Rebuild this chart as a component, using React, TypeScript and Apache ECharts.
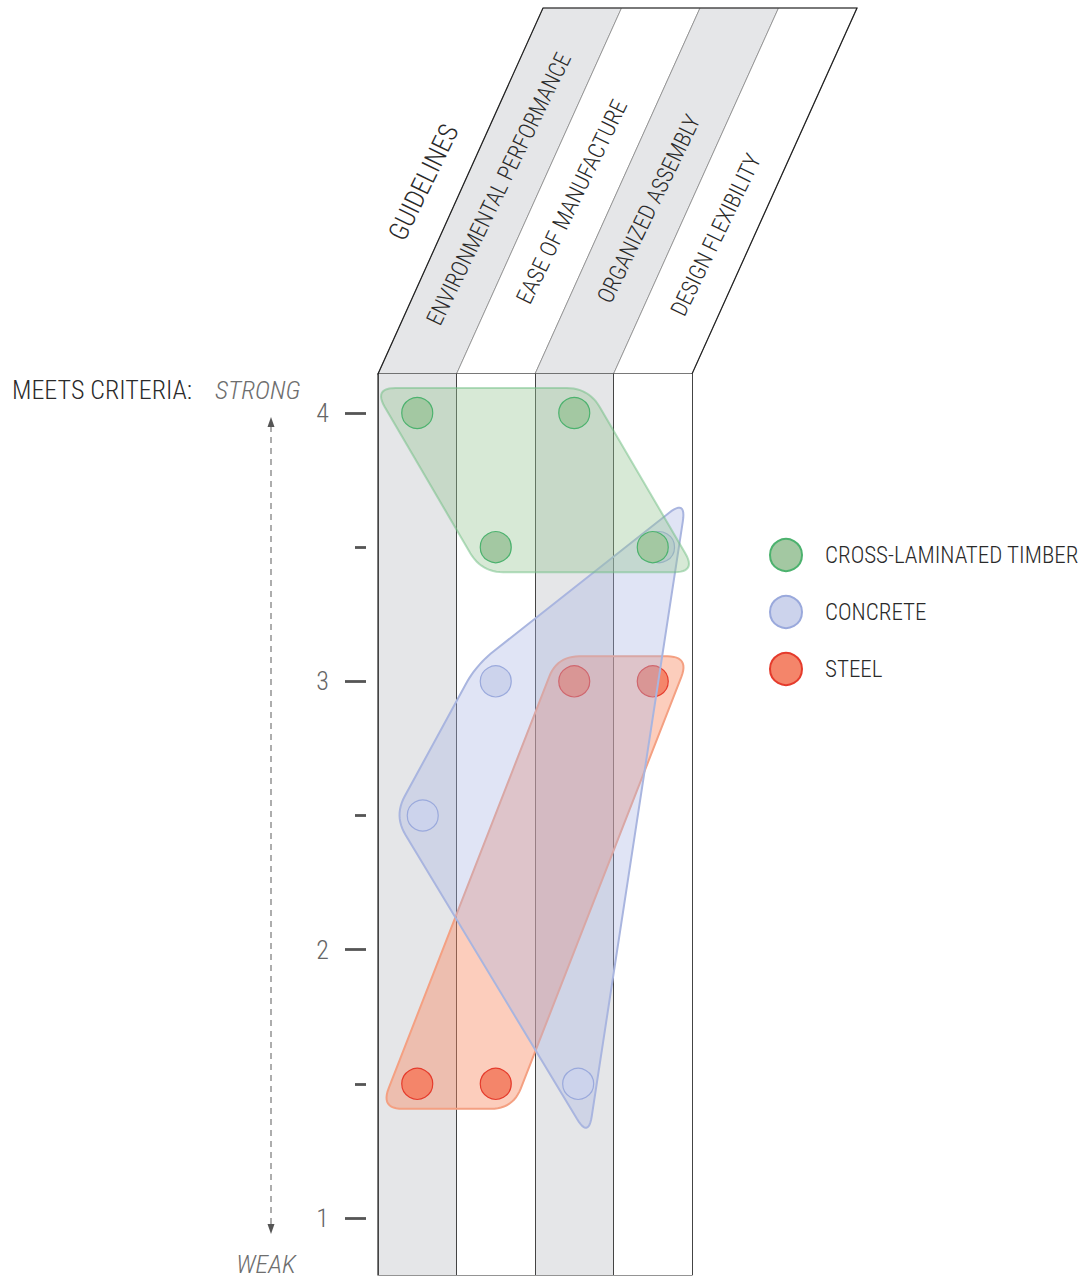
import React, { useEffect, useRef } from "react";
import * as echarts from "echarts";

// ---------- data ----------
const guidelines = ["ENVIRONMENTAL PERFORMANCE", "EASE OF MANUFACTURE", "ORGANIZED ASSEMBLY", "DESIGN FLEXIBILITY"];
const materials = ["CROSS-LAMINATED TIMBER", "CONCRETE", "STEEL"];
const timberScores = [4, 3.5, 4, 3.5];
const concreteScores = [2.5, 3, 1.5, 3.5];
const steelScores = [1.5, 1.5, 3, 3];
// small horizontal nudges of the concrete markers inside their column (in column units)
const concreteNudge = [0.07, 0, 0.05, 0.08];
const yTickValues = [1, 2, 3, 4];

// ---------- layout / style ----------
const FONT = "'Liberation Sans Narrow', 'Roboto Condensed', 'DejaVu Sans Condensed', Roboto, sans-serif";
const W = 300;
const GL = 378, GW = 314, GT = 374, GB = 1275;
const DT = 413, DB = 1218;
const AXIS_X = 366;
const SKEW = 165, HTOP = 8;
const CW = GW / 4;

const COLORS = {
  timber: { fill: "#a3c8a2", border: "#4cb26e", hull: "rgba(150,196,148,0.38)", hullStroke: "rgba(110,190,130,0.5)" },
  concrete: { fill: "#ccd3ec", border: "#9aa9dc", hull: "rgba(168,180,228,0.36)", hullStroke: "#a9b5df" },
  steel: { fill: "#f4856a", border: "#e53b2c", hull: "rgba(247,135,95,0.42)", hullStroke: "#f4a082" },
};

function toPoints(scores: number[], nudge?: number[]) {
  return scores.map((s, i) => [i + 0.5 + (nudge ? nudge[i] : 0), s]);
}

function convexHull(p: number[][]) {
  const pts = p.slice().sort((a, b) => a[0] - b[0] || a[1] - b[1]);
  const cross = (o: number[], a: number[], b: number[]) => (a[0] - o[0]) * (b[1] - o[1]) - (a[1] - o[1]) * (b[0] - o[0]);
  const lower: number[][] = [];
  const upper: number[][] = [];
  for (const q of pts) {
    while (lower.length >= 2 && cross(lower[lower.length - 2], lower[lower.length - 1], q) <= 0) lower.pop();
    lower.push(q);
  }
  for (let i = pts.length - 1; i >= 0; i--) {
    const q = pts[i];
    while (upper.length >= 2 && cross(upper[upper.length - 2], upper[upper.length - 1], q) <= 0) upper.pop();
    upper.push(q);
  }
  upper.pop();
  lower.pop();
  return lower.concat(upper);
}

function roundedHull(raw: number[][], pad: number, maxMiter: number, radius: number) {
  const h = convexHull(raw);
  const n = h.length;
  let cx = 0, cy = 0;
  h.forEach((q) => { cx += q[0] / n; cy += q[1] / n; });
  const normals: number[][] = [];
  for (let i = 0; i < n; i++) {
    const a = h[i], b = h[(i + 1) % n];
    const dx = b[0] - a[0], dy = b[1] - a[1];
    const len = Math.hypot(dx, dy) || 1;
    let nx = dy / len, ny = -dx / len;
    const mx = (a[0] + b[0]) / 2 - cx, my = (a[1] + b[1]) / 2 - cy;
    if (mx * nx + my * ny < 0) { nx = -nx; ny = -ny; }
    normals.push([nx, ny]);
  }
  const verts: number[][] = [];
  for (let i = 0; i < n; i++) {
    const n1 = normals[(i - 1 + n) % n], n2 = normals[i];
    let ax = n1[0] + n2[0], ay = n1[1] + n2[1];
    const al = Math.hypot(ax, ay) || 1;
    ax /= al; ay /= al;
    const cosHalf = Math.max(ax * n2[0] + ay * n2[1], 0.05);
    const m = Math.min(pad / cosHalf, maxMiter);
    verts.push([h[i][0] + ax * m, h[i][1] + ay * m]);
  }
  const out: number[][] = [];
  for (let i = 0; i < n; i++) {
    const V = verts[i], P = verts[(i - 1 + n) % n], N = verts[(i + 1) % n];
    const t1 = Math.min(radius / Math.hypot(P[0] - V[0], P[1] - V[1]), 0.5);
    const t2 = Math.min(radius / Math.hypot(N[0] - V[0], N[1] - V[1]), 0.5);
    const A = [V[0] + (P[0] - V[0]) * t1, V[1] + (P[1] - V[1]) * t1];
    const B = [V[0] + (N[0] - V[0]) * t2, V[1] + (N[1] - V[1]) * t2];
    for (let k = 0; k <= 12; k++) {
      const t = k / 12;
      const u = 1 - t;
      out.push([u * u * A[0] + 2 * u * t * V[0] + t * t * B[0], u * u * A[1] + 2 * u * t * V[1] + t * t * B[1]]);
    }
  }
  return out;
}

function hullSeries(name: string, pts: number[][], fill: string, stroke: string, z: number) {
  return {
    type: "custom",
    name,
    z,
    xAxisIndex: 1,
    yAxisIndex: 1,
    silent: true,
    clip: false,
    data: pts,
    encode: { x: 0, y: 1 },
    renderItem: (params: any, api: any) => {
      if (params.dataIndex !== 0) return null;
      const px = pts.map((p) => api.coord(p));
      return {
        type: "polygon",
        shape: { points: roundedHull(px, 25, 55, 22) },
        style: { fill, stroke, lineWidth: 2 },
      };
    },
  };
}

function pointSeries(name: string, pts: number[][], fill: string, border: string, z: number) {
  return {
    type: "scatter",
    name,
    z,
    xAxisIndex: 1,
    yAxisIndex: 1,
    symbol: "circle",
    symbolSize: 31,
    data: pts,
    itemStyle: { color: fill, borderColor: border, borderWidth: 1.2, opacity: 1 },
    emphasis: { disabled: true },
  };
}

let measureCtx: CanvasRenderingContext2D | null = null;
function textWidth(text: string, size: number) {
  if (!measureCtx) measureCtx = document.createElement("canvas").getContext("2d");
  if (!measureCtx) return text.length * size * 0.5;
  measureCtx.font = `${W} ${size}px ${FONT}`;
  return measureCtx.measureText(text).width;
}

function fittedText(text: string, cx: number, cy: number, size: number, target: number, rot: number, color: string) {
  const w = textWidth(text, size);
  const s = Math.max(0.6, Math.min(1.4, target / (w || 1)));
  return {
    type: "text",
    x: cx,
    y: cy,
    rotation: rot,
    scaleX: s,
    style: { text, fill: color, font: `${W} ${size}px ${FONT}`, align: "center", verticalAlign: "middle" },
  };
}

export default function App() {
  const ref = useRef<HTMLDivElement>(null);

  useEffect(() => {
    if (!ref.current) return;
    const chart = echarts.init(ref.current, null, { renderer: "svg" });

    const timberPts = toPoints(timberScores);
    const concretePts = toPoints(concreteScores, concreteNudge);
    const steelPts = toPoints(steelScores);

    const headerPolys: any[] = [];
    for (let i = 0; i < 4; i++) {
      headerPolys.push({
        type: "polygon",
        shape: {
          points: [
            [GL + i * CW, GT],
            [GL + (i + 1) * CW, GT],
            [GL + SKEW + (i + 1) * CW, HTOP],
            [GL + SKEW + i * CW, HTOP],
          ],
        },
        style: { fill: i % 2 === 0 ? "#e5e6e8" : "#ffffff", stroke: "#8a8a8a", lineWidth: 0.8 },
      });
    }
    headerPolys.push({
      type: "polygon",
      shape: { points: [[GL, GT], [GL + GW, GT], [GL + GW + SKEW, HTOP], [GL + SKEW, HTOP]] },
      style: { fill: "none", stroke: "#222", lineWidth: 1.2 },
    });

    const ROT = (64 * Math.PI) / 180;
    const labelCenters = [[499, 189], [572, 202], [649, 209], [716, 235]];
    const labelLengths = [300, 224, 206, 177];
    const headerLabels = guidelines.map((g, i) =>
      fittedText(g, labelCenters[i][0], labelCenters[i][1], 23, labelLengths[i], ROT, "#2a2a2a")
    );
    headerLabels.push(fittedText("GUIDELINES", 423, 182, 27, 125, ROT, "#2a2a2a"));

    const sideTexts: any[] = [
      {
        type: "text", x: 12, y: 390,
        style: { text: "MEETS CRITERIA:", fill: "#2a2a2a", font: `${W} 26px ${FONT}`, align: "left", verticalAlign: "middle" },
      },
      {
        type: "text", x: 215, y: 390,
        style: { text: "STRONG", fill: "#6e6e6e", font: `italic ${W} 26px ${FONT}`, align: "left", verticalAlign: "middle" },
      },
      {
        type: "text", x: 266, y: 1264,
        style: { text: "WEAK", fill: "#6e6e6e", font: `italic ${W} 26px ${FONT}`, align: "center", verticalAlign: "middle" },
      },
      {
        type: "line", shape: { x1: 271, y1: 426, x2: 271, y2: 1225 },
        style: { stroke: "#777", lineWidth: 1.2, lineDash: [6, 5] },
      },
      { type: "polygon", shape: { points: [[271, 417], [267.5, 427], [274.5, 427]] }, style: { fill: "#555" } },
      { type: "polygon", shape: { points: [[271, 1234], [267.5, 1224], [274.5, 1224]] }, style: { fill: "#555" } },
    ];

    const option: any = {
      animation: false,
      backgroundColor: "#ffffff",
      textStyle: { fontFamily: FONT, fontWeight: W },
      grid: [
        { left: GL, width: GW, top: GT, height: GB - GT, show: true, borderColor: "#2a2a2a", borderWidth: 1.2, backgroundColor: "transparent" },
        { left: GL, width: GW, top: DT, height: DB - DT },
        { left: AXIS_X, width: 8, top: DT, height: DB - DT },
      ],
      xAxis: [
        {
          gridIndex: 0, type: "value", min: 0, max: 4, interval: 1,
          axisLine: { show: false }, axisTick: { show: false }, axisLabel: { show: false },
          splitLine: { show: true, lineStyle: { color: "#444", width: 1 } },
          splitArea: { show: true, areaStyle: { color: ["#e5e6e8", "#ffffff"] } },
        },
        { gridIndex: 1, type: "value", min: 0, max: 4, show: false },
        { gridIndex: 2, type: "value", min: 0, max: 1, show: false },
      ],
      yAxis: [
        { gridIndex: 0, type: "value", min: 0, max: 1, show: false },
        { gridIndex: 1, type: "value", min: 1, max: 4, show: false },
        {
          gridIndex: 2, type: "value", min: 1, max: 4, interval: 1,
          axisLine: { show: false },
          axisTick: { show: true, length: 21, lineStyle: { color: "#555", width: 2.8 } },
          minorTick: { show: true, splitNumber: 2, length: 11, lineStyle: { color: "#555", width: 2.8 } },
          axisLabel: {
            margin: 37, fontSize: 26, color: "#666", fontFamily: FONT, fontWeight: W,
            formatter: (v: number) => (yTickValues.indexOf(v) >= 0 ? String(v) : ""),
          },
          splitLine: { show: false },
          minorSplitLine: { show: false },
        },
      ],
      legend: {
        data: materials,
        orient: "vertical",
        left: 769,
        top: 538,
        itemWidth: 32,
        itemHeight: 32,
        itemGap: 23,
        icon: "circle",
        padding: 0,
        selectedMode: false,
        textStyle: { fontSize: 23, color: "#2a2a2a", fontFamily: FONT, fontWeight: W, padding: [0, 0, 0, 18] },
      },
      series: [
        hullSeries("steel hull", steelPts, COLORS.steel.hull, COLORS.steel.hullStroke, 2),
        pointSeries(materials[2], steelPts, COLORS.steel.fill, COLORS.steel.border, 3),
        hullSeries("concrete hull", concretePts, COLORS.concrete.hull, COLORS.concrete.hullStroke, 4),
        pointSeries(materials[1], concretePts, COLORS.concrete.fill, COLORS.concrete.border, 5),
        hullSeries("timber hull", timberPts, COLORS.timber.hull, COLORS.timber.hullStroke, 6),
        pointSeries(materials[0], timberPts, COLORS.timber.fill, COLORS.timber.border, 7),
      ],
      graphic: [...headerPolys, ...headerLabels, ...sideTexts],
    };

    chart.setOption(option);
    return () => chart.dispose();
  }, []);

  return <div ref={ref} style={{ position: "absolute", left: 0, top: 0, width: 1088, height: 1279 }} />;
}
